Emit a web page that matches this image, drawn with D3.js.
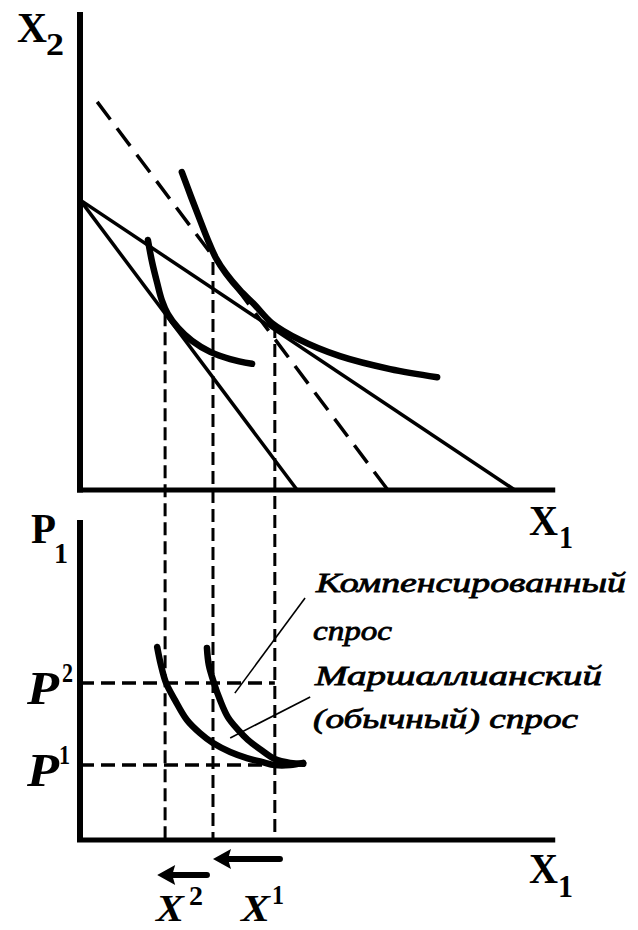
<!DOCTYPE html>
<html><head><meta charset="utf-8">
<script src="https://cdn.jsdelivr.net/npm/d3@7"></script>
<style>body{margin:0;background:#fff}</style>
</head><body>
<svg id="c" width="638" height="930" xmlns="http://www.w3.org/2000/svg"></svg>
<script>
// ---------- data (u = quantity of good 1, v = quantity of good 2, p = price of good 1) ----------
const budgetOriginal    = [[0, 60.7], [93.5, 0]];
const budgetAfterRise   = [[0, 60.7], [46.7, 0]];
const budgetCompensated = [[3.7, 81.2], [66.2, 0]];

const indifferenceHigh = [
  [21.9, 66.5], [23.9, 61.3], [25.8, 56.5], [27.5, 52.3], [29.2, 48.6], [31.4, 45.3],
  [34.4, 41.8], [37.6, 38.7], [41.3, 34.9], [47.3, 31.4], [55.9, 28.0], [66.7, 25.3], [76.8, 23.6]
];
const indifferenceLow = [
  [14.6, 52.3], [15.5, 47.7], [16.6, 43.3], [17.6, 39.7], [18.9, 36.8], [21.1, 33.9],
  [24.1, 31.2], [28.0, 28.9], [32.3, 27.4], [37.0, 26.4]
];

const quantityLevels = [18.3, 28.6, 41.9];   // X2, compensated X, X1
const quantityTopV   = [37.0, 47.7, 34.5];   // where the drop lines leave the top panel

const priceLevels = [49.1, 23.4];            // P2, P1
const priceSup    = ["2", "1"];

const marshallianDemand = [
  [16.6, 60.3], [17.4, 54.7], [18.5, 49.1], [20.4, 43.8], [23.0, 37.5], [25.8, 33.4],
  [28.6, 30.3], [32.3, 27.5], [35.9, 25.6], [39.1, 24.4], [41.9, 23.4], [45.2, 23.4], [48.0, 24.1]
];
const compensatedDemand = [
  [27.3, 60.0], [27.7, 54.7], [28.8, 49.1], [30.1, 43.8], [31.8, 38.4], [34.0, 34.4],
  [36.1, 31.3], [38.7, 28.4], [41.9, 25.3], [45.2, 24.1], [48.0, 23.8]
];

const pointerCompensated = [[48.4, 75.6], [33.3, 45.9]];
const pointerMarshallian = [[49.5, 44.7], [32.3, 31.9]];

const arrowFrom = [43.0, 27.3];
const arrowTo   = [28.6, 16.6];

const labelCompensated = ["Компенсированный", "спрос"];
const labelMarshallian = ["Маршаллианский", "(обычный) спрос"];

// ---------- scales ----------
const svg = d3.select("#c");
const x    = d3.scaleLinear([0, 100], [80, 545]);
const yTop = d3.scaleLinear([0, 100], [490, 12]);
const yBot = d3.scaleLinear([0, 100], [840, 520]);

const lineTop = d3.line().x(d => x(d[0])).y(d => yTop(d[1])).curve(d3.curveCatmullRom);
const lineBot = d3.line().x(d => x(d[0])).y(d => yBot(d[1])).curve(d3.curveCatmullRom);

// ---------- axes ----------
const axisG = svg.append("g").attr("stroke", "#000").attr("stroke-linecap", "butt");
axisG.append("line").attr("x1", x(0)).attr("x2", x(0)).attr("y1", yTop(100)).attr("y2", yTop(0) + 2.5).attr("stroke-width", 6);
axisG.append("line").attr("x1", x(0) - 3).attr("x2", x(102.2)).attr("y1", yTop(0)).attr("y2", yTop(0)).attr("stroke-width", 5);
axisG.append("line").attr("x1", x(0)).attr("x2", x(0)).attr("y1", yBot(100)).attr("y2", yBot(0)).attr("stroke-width", 6);
axisG.append("line").attr("x1", x(0) - 3).attr("x2", x(102.2)).attr("y1", yBot(0)).attr("y2", yBot(0)).attr("stroke-width", 5);

// ---------- drop lines and price lines ----------
const dashG = svg.append("g").attr("stroke", "#000").attr("fill", "none");
quantityLevels.forEach((q, i) => {
  dashG.append("line")
    .attr("x1", x(q)).attr("x2", x(q))
    .attr("y1", yTop(quantityTopV[i])).attr("y2", yBot(0))
    .attr("stroke-width", 3).attr("stroke-dasharray", "13,6");
});
priceLevels.forEach(p => {
  dashG.append("line")
    .attr("x1", x(0)).attr("x2", x(quantityLevels[2]))
    .attr("y1", yBot(p)).attr("y2", yBot(p))
    .attr("stroke-width", 3.5).attr("stroke-dasharray", "14,7");
});

// ---------- budget lines ----------
const topG = svg.append("g").attr("fill", "none").attr("stroke", "#000");
topG.append("path").attr("d", lineTop(budgetOriginal)).attr("stroke-width", 3.5);
topG.append("path").attr("d", lineTop(budgetAfterRise)).attr("stroke-width", 3.5);
topG.append("path").attr("d", lineTop(budgetCompensated)).attr("stroke-width", 3.5).attr("stroke-dasharray", "22,11");

// ---------- indifference curves ----------
topG.append("path").attr("d", lineTop(indifferenceHigh)).attr("stroke-width", 6.5).attr("stroke-linecap", "round");
topG.append("path").attr("d", lineTop(indifferenceLow)).attr("stroke-width", 6.5).attr("stroke-linecap", "round");

// ---------- demand curves ----------
const botG = svg.append("g").attr("fill", "none").attr("stroke", "#000");
botG.append("path").attr("d", lineBot(marshallianDemand)).attr("stroke-width", 6.5).attr("stroke-linecap", "round");
botG.append("path").attr("d", lineBot(compensatedDemand)).attr("stroke-width", 6.5).attr("stroke-linecap", "round");
const straightBot = d3.line().x(d => x(d[0])).y(d => yBot(d[1]));
botG.append("path").attr("d", straightBot(pointerCompensated)).attr("stroke-width", 1.6);
botG.append("path").attr("d", straightBot(pointerMarshallian)).attr("stroke-width", 1.6);

// ---------- arrows ----------
const arrowRows = [859, 875];
arrowFrom.forEach((f, i) => {
  const tip = x(arrowTo[i]), y0 = arrowRows[i];
  svg.append("line").attr("x1", x(f)).attr("x2", tip + 14).attr("y1", y0).attr("y2", y0)
    .attr("stroke", "#000").attr("stroke-width", 6).attr("stroke-linecap", "round");
  svg.append("path").attr("d", `M${tip},${y0} L${tip + 18},${y0 - 10} L${tip + 15},${y0} L${tip + 18},${y0 + 10} Z`)
    .attr("fill", "#000");
});

// ---------- labels ----------
const serif = "'Liberation Serif', 'DejaVu Serif', serif";
function txt(t, px, py, size, opts = {}) {
  const e = svg.append("text").attr("x", px).attr("y", py).text(t)
    .attr("font-family", serif).attr("font-size", size)
    .attr("font-weight", opts.weight || "bold")
    .attr("font-style", opts.italic ? "italic" : "normal")
    .attr("fill", "#000");
  if (opts.len) e.attr("textLength", opts.len).attr("lengthAdjust", "spacingAndGlyphs");
  if (opts.stroke) e.attr("stroke", "#000").attr("stroke-width", opts.stroke);
  return e;
}
// axis titles
txt("X", 17, 42, 42, {len: 30});
txt("2", 46, 55, 32, {len: 18});
txt("X", 529, 535, 42, {len: 29});
txt("1", 559, 548, 32, {len: 14});
txt("P", 31, 543, 42, {len: 25});
txt("1", 54, 563, 30, {len: 14});
txt("X", 529, 883, 42, {len: 29});
txt("1", 558, 897, 32, {len: 15});

// price level labels
priceLevels.forEach((p, i) => {
  const yy = yBot(p);
  txt("P", 27, yy + 21, 46, {italic: true, len: 32});
  txt(priceSup[i], i === 0 ? 62 : 59, yy - 1, 28, {len: 11});
});

// quantity labels
txt("X", 156, 921, 38, {italic: true, len: 28});
txt("2", 189, 905, 28, {len: 14});
txt("X", 241, 921, 38, {italic: true, len: 29});
txt("1", 272, 904, 28, {len: 12});

// annotations
txt(labelCompensated[0], 316, 592, 28, {italic: true, weight: "normal", len: 310, stroke: 0.8});
txt(labelCompensated[1], 313, 640, 28, {italic: true, weight: "normal", len: 79, stroke: 0.8});
txt(labelMarshallian[0], 315, 685, 28, {italic: true, weight: "normal", len: 287, stroke: 0.8});
txt(labelMarshallian[1], 313, 728, 28, {italic: true, weight: "normal", len: 265, stroke: 0.8});
</script>
</body></html>
